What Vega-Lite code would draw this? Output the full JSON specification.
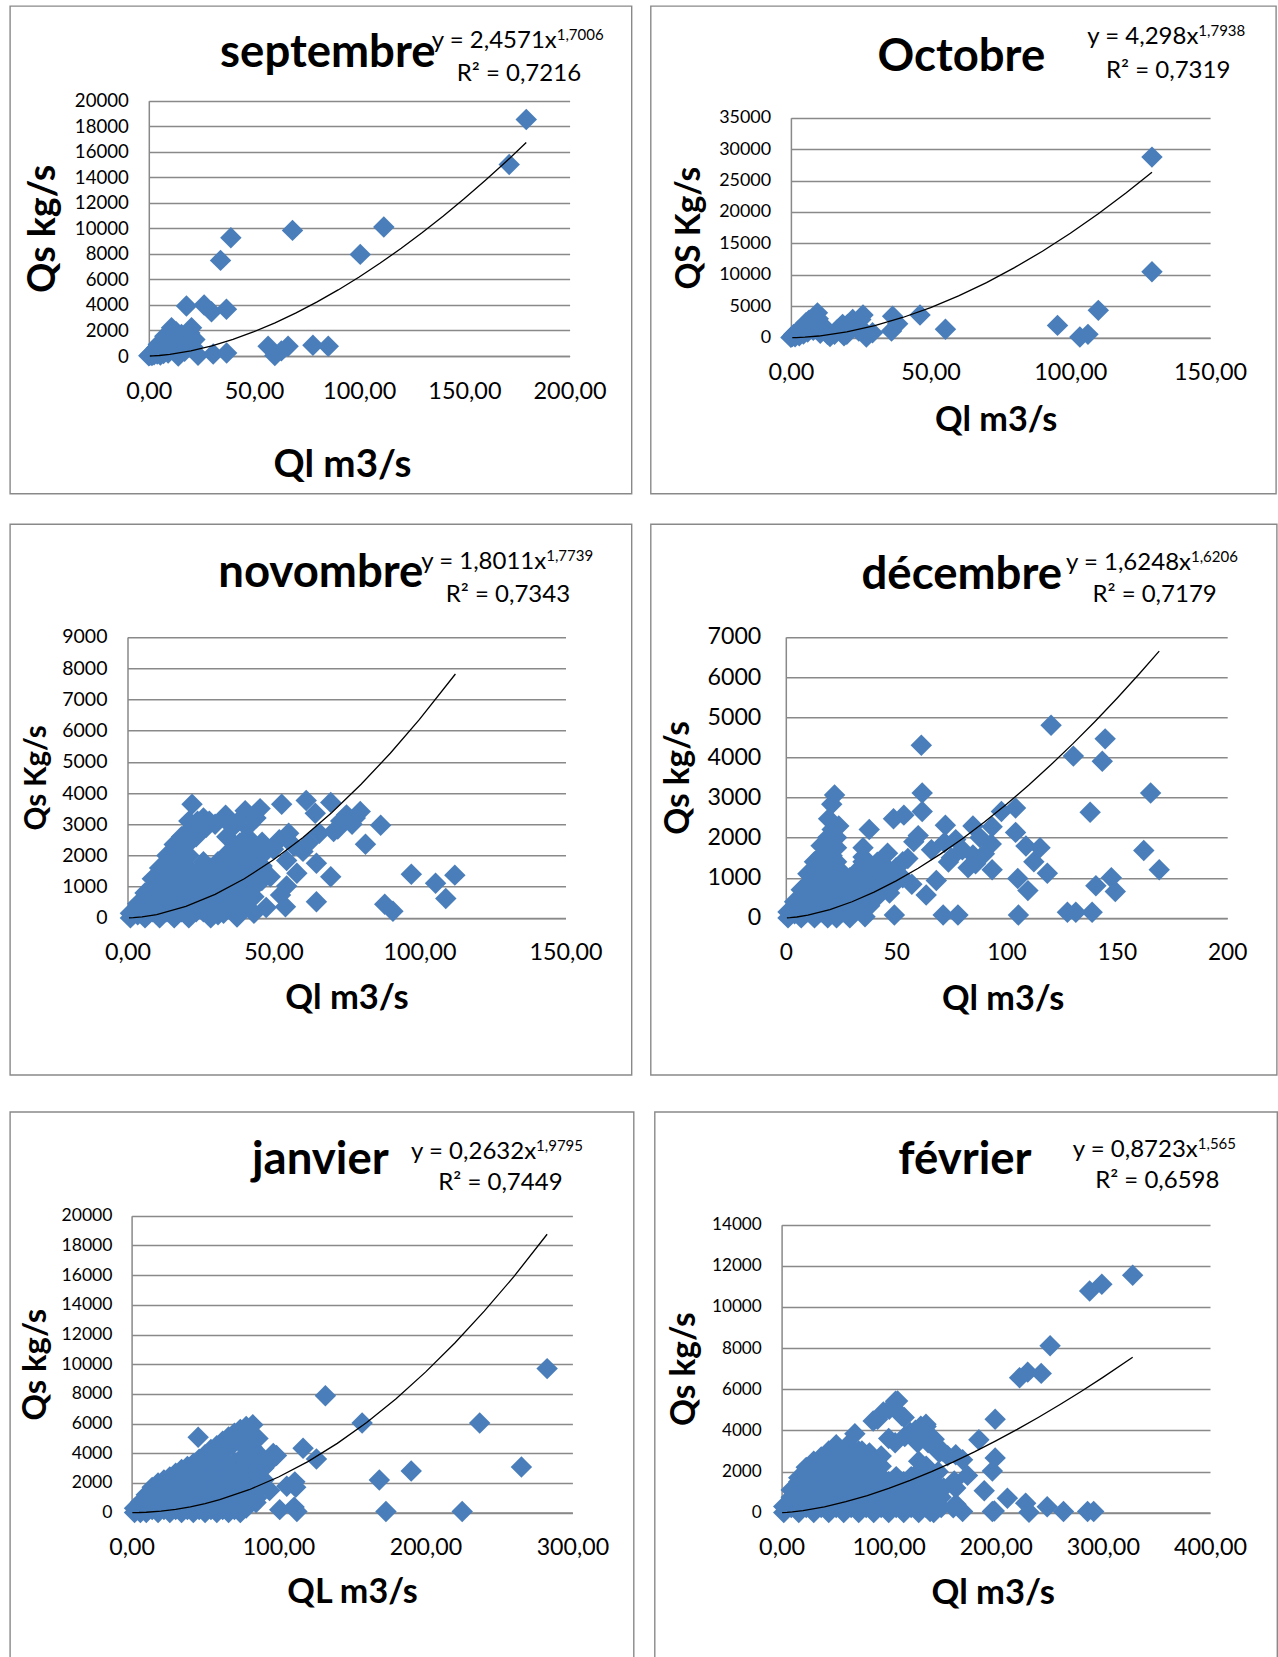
{
"$schema": "https://vega.github.io/schema/vega-lite/v6.json",
"padding": {"left": 9, "top": 5, "right": 0, "bottom": 0},
"background": "white",
"config": {
  "view": {"stroke": "#898989", "strokeWidth": 1.4},
  "font": "Lato",
  "axis": {"domainColor": "#898989", "domainWidth": 1.5, "gridColor": "#898989", "gridWidth": 1.5, "ticks": false, "labelColor": "#000", "labelFont": "Lato", "titleFont": "Lato", "titleColor": "#000", "titleFontWeight": "bold", "labelFlush": false, "labelOverlap": false},
  "axisX": {"grid": false, "labelPadding": 24},
  "axisY": {"grid": true, "labelPadding": 20},
  "title": {"font": "Lato", "fontWeight": "bold", "fontSize": 45.5, "color": "#000", "anchor": "middle", "frame": "group", "baseline": "alphabetic"},
  "text": {"font": "Lato", "color": "#000", "baseline": "alphabetic"},
  "line": {"color": "#000", "strokeWidth": 1.3},
  "point": {"shape": "diamond", "filled": true, "size": 460, "color": "#4A7EBB", "opacity": 1}
},
"datasets": {
 "sep": [{"x":0,"y":20},{"x":0.5,"y":60},{"x":1,"y":150},{"x":1.5,"y":40},{"x":2,"y":300},{"x":2.5,"y":100},{"x":3,"y":450},{"x":3.6,"y":630},{"x":4,"y":150},{"x":4.5,"y":900},{"x":5,"y":350},{"x":5.5,"y":80},{"x":6,"y":1030},{"x":6.5,"y":550},{"x":7,"y":200},{"x":7.6,"y":1550},{"x":8,"y":750},{"x":8.5,"y":1250},{"x":9.2,"y":240},{"x":10,"y":1000},{"x":10.8,"y":2210},{"x":11.5,"y":1500},{"x":12.4,"y":760},{"x":13,"y":1900},{"x":14,"y":0},{"x":14.5,"y":1100},{"x":15.5,"y":1680},{"x":16,"y":600},{"x":17,"y":370},{"x":17.9,"y":3920},{"x":18.5,"y":1000},{"x":19.5,"y":1800},{"x":20.3,"y":2210},{"x":21,"y":700},{"x":21.9,"y":1290},{"x":23.4,"y":50},{"x":26.3,"y":4000},{"x":29.8,"y":3470},{"x":30.6,"y":160},{"x":34.1,"y":7490},{"x":36.9,"y":3660},{"x":37,"y":240},{"x":39,"y":9270},{"x":56.7,"y":760},{"x":59.9,"y":30},{"x":63,"y":400},{"x":66.2,"y":760},{"x":68.3,"y":9840},{"x":78,"y":840},{"x":85.3,"y":760},{"x":100.5,"y":7960},{"x":111.7,"y":10100},{"x":171.3,"y":15000},{"x":179.4,"y":18530}],
 "sepT": [{"x":0.5,"y":0.76},{"x":2,"y":8},{"x":5,"y":37.9},{"x":10,"y":123.3},{"x":20,"y":400.8},{"x":30,"y":798.6},{"x":40,"y":1302.8},{"x":50,"y":1903.8},{"x":60,"y":2596.1},{"x":70,"y":3374.8},{"x":80,"y":4235.8},{"x":90,"y":5175.6},{"x":100,"y":6191.2},{"x":110,"y":7279.2},{"x":120,"y":8439.2},{"x":130,"y":9669.3},{"x":140,"y":10967.9},{"x":150,"y":12332.5},{"x":160,"y":13764.4},{"x":170,"y":15259.2},{"x":179.4,"y":16721.8}],
 "oct": [{"x":0,"y":50},{"x":0.5,"y":200},{"x":1,"y":500},{"x":1.5,"y":150},{"x":2,"y":800},{"x":2.5,"y":1060},{"x":3,"y":300},{"x":3.6,"y":1050},{"x":4,"y":1500},{"x":4.5,"y":600},{"x":5,"y":2000},{"x":5.4,"y":2390},{"x":6,"y":900},{"x":6.5,"y":2800},{"x":7.2,"y":2100},{"x":8,"y":1200},{"x":8.4,"y":3180},{"x":9.5,"y":3950},{"x":9.8,"y":3000},{"x":10.5,"y":700},{"x":11,"y":1800},{"x":12.7,"y":1330},{"x":13.1,"y":530},{"x":14,"y":200},{"x":15.6,"y":530},{"x":16.7,"y":1320},{"x":18.5,"y":2120},{"x":19,"y":300},{"x":20,"y":530},{"x":20.3,"y":2100},{"x":22.1,"y":2900},{"x":24.3,"y":1060},{"x":25,"y":2900},{"x":25.8,"y":3600},{"x":26.2,"y":1050},{"x":27,"y":100},{"x":29.2,"y":790},{"x":36,"y":1060},{"x":36.4,"y":3420},{"x":38.2,"y":2230},{"x":46.2,"y":3600},{"x":55.3,"y":1330},{"x":95.4,"y":1960},{"x":103.4,"y":100},{"x":106.3,"y":530},{"x":110,"y":4350},{"x":129.2,"y":10490},{"x":129.2,"y":28730}],
 "octT": [{"x":0.5,"y":1.24},{"x":2,"y":14.9},{"x":5,"y":77.1},{"x":10,"y":267.3},{"x":20,"y":927.1},{"x":30,"y":1918.2},{"x":40,"y":3214.1},{"x":50,"y":4794.9},{"x":60,"y":6651.2},{"x":70,"y":8769.2},{"x":80,"y":11138.7},{"x":90,"y":13755.3},{"x":100,"y":16620},{"x":110,"y":19719},{"x":120,"y":23053},{"x":129.2,"y":26323}],
 "nov": [{"x":22.1,"y":3640},{"x":33.6,"y":3290},{"x":40.3,"y":3430},{"x":45.4,"y":3500},{"x":52.8,"y":3640},{"x":61.2,"y":3760},{"x":69.6,"y":3700},{"x":64.3,"y":3350},{"x":79.7,"y":3410},{"x":76.9,"y":3000},{"x":86.7,"y":2970},{"x":81.5,"y":2360},{"x":70.6,"y":2770},{"x":65.7,"y":2710},{"x":55.2,"y":2710},{"x":46.1,"y":2420},{"x":37.7,"y":2300},{"x":40.5,"y":2940},{"x":60.1,"y":2130},{"x":54.5,"y":1840},{"x":64.7,"y":1750},{"x":69.6,"y":1320},{"x":58,"y":1430},{"x":48.9,"y":1320},{"x":46.1,"y":1660},{"x":54.5,"y":1020},{"x":52.4,"y":730},{"x":54.1,"y":360},{"x":64.7,"y":520},{"x":97.2,"y":1400},{"x":105.5,"y":1110},{"x":112.1,"y":1370},{"x":109,"y":620},{"x":88.1,"y":440},{"x":90.9,"y":210},{"x":43.3,"y":680},{"x":37,"y":560},{"x":37.5,"y":30},{"x":43.3,"y":150},{"x":47.5,"y":330},{"x":32.9,"y":150},{"x":28,"y":270},{"x":21,"y":0},{"x":73,"y":3100},{"x":75,"y":3300},{"x":78,"y":3200},{"x":72,"y":2850},{"x":50,"y":2200},{"x":52,"y":2500},{"x":57,"y":2300},{"x":62,"y":2400},
  {"x":1,"y":0},{"x":1,"y":150},{"x":3.5,"y":100},{"x":3.5,"y":450},{"x":6,"y":0},{"x":6,"y":400},{"x":6,"y":800},{"x":8.5,"y":200},{"x":8.5,"y":600},{"x":8.5,"y":1000},{"x":8.5,"y":1250},{"x":11,"y":0},{"x":11,"y":400},{"x":11,"y":800},{"x":11,"y":1200},{"x":11,"y":1600},{"x":13.5,"y":200},{"x":13.5,"y":600},{"x":13.5,"y":1000},{"x":13.5,"y":1400},{"x":13.5,"y":1800},{"x":13.5,"y":2000},{"x":16,"y":0},{"x":16,"y":400},{"x":16,"y":800},{"x":16,"y":1200},{"x":16,"y":1600},{"x":16,"y":2000},{"x":16,"y":2350},{"x":18.5,"y":200},{"x":18.5,"y":600},{"x":18.5,"y":1000},{"x":18.5,"y":1400},{"x":18.5,"y":1800},{"x":18.5,"y":2200},{"x":18.5,"y":2600},{"x":21,"y":400},{"x":21,"y":800},{"x":21,"y":1200},{"x":21,"y":1600},{"x":21,"y":2000},{"x":21,"y":2400},{"x":21,"y":2800},{"x":21,"y":3100},{"x":23.5,"y":200},{"x":23.5,"y":600},{"x":23.5,"y":1000},{"x":23.5,"y":1400},{"x":23.5,"y":2600},{"x":23.5,"y":3000},{"x":24,"y":3100},{"x":26,"y":3200},{"x":28,"y":3100},{"x":30,"y":3000},{"x":27,"y":2900},
  {"x":26,"y":200},{"x":26,"y":600},{"x":26,"y":1000},{"x":26,"y":1400},{"x":26,"y":1800},{"x":28.5,"y":0},{"x":28.5,"y":400},{"x":28.5,"y":800},{"x":28.5,"y":1200},{"x":28.5,"y":1600},{"x":31,"y":200},{"x":31,"y":600},{"x":31,"y":1000},{"x":31,"y":1400},{"x":31,"y":1800},{"x":33.5,"y":400},{"x":33.5,"y":800},{"x":33.5,"y":1200},{"x":33.5,"y":1600},{"x":33.5,"y":2000},{"x":36,"y":600},{"x":36,"y":1000},{"x":36,"y":1400},{"x":36,"y":1800},{"x":36,"y":2200},{"x":38.5,"y":800},{"x":38.5,"y":1200},{"x":38.5,"y":1600},{"x":38.5,"y":2000},{"x":38.5,"y":2400},{"x":41,"y":1000},{"x":41,"y":1400},{"x":41,"y":1800},{"x":41,"y":2200},{"x":41,"y":2600},{"x":43.5,"y":1000},{"x":43.5,"y":1400},{"x":43.5,"y":1800},{"x":43.5,"y":2200},{"x":46,"y":1200},{"x":46,"y":1600},{"x":46,"y":2000},{"x":34,"y":2600},{"x":36,"y":2900},{"x":38,"y":3100},{"x":42,"y":3000},{"x":44,"y":3200},{"x":31,"y":100},{"x":34,"y":300},{"x":40,"y":450}],
 "novT": [{"x":0.5,"y":0.53},{"x":2,"y":6.2},{"x":5,"y":31.3},{"x":10,"y":107},{"x":20,"y":366},{"x":30,"y":751.3},{"x":40,"y":1252.1},{"x":50,"y":1859.5},{"x":60,"y":2569.4},{"x":70,"y":3377.1},{"x":80,"y":4278.7},{"x":90,"y":5272.4},{"x":100,"y":6356.4},{"x":112.3,"y":7811.2}],
 "dec": [{"x":120.2,"y":4800},{"x":61.4,"y":4300},{"x":130.3,"y":4030},{"x":144.7,"y":4460},{"x":143.4,"y":3900},{"x":165.3,"y":3110},{"x":137.9,"y":2630},{"x":61.8,"y":3110},{"x":61.8,"y":2650},{"x":22.1,"y":3060},{"x":20.8,"y":2830},{"x":19.4,"y":2470},{"x":24,"y":2290},{"x":37.8,"y":2200},{"x":48.8,"y":2470},{"x":53.5,"y":2560},{"x":72.3,"y":2310},{"x":84.8,"y":2290},{"x":97.7,"y":2650},{"x":93.5,"y":2270},{"x":104.1,"y":2740},{"x":104.1,"y":2130},{"x":108.8,"y":1790},{"x":115.2,"y":1750},{"x":112.4,"y":1400},{"x":118.5,"y":1110},{"x":162.2,"y":1680},{"x":169.2,"y":1200},{"x":147.5,"y":1000},{"x":149.3,"y":660},{"x":140.5,"y":800},{"x":105.1,"y":980},{"x":109.7,"y":680},{"x":93.5,"y":1200},{"x":93.1,"y":1840},{"x":84.8,"y":1570},{"x":82.6,"y":1250},{"x":73.7,"y":1390},{"x":71.9,"y":1880},{"x":68.2,"y":930},{"x":63.6,"y":570},{"x":57.1,"y":840},{"x":47,"y":620},{"x":55.3,"y":1480},{"x":46.1,"y":1610},{"x":41.5,"y":1390},{"x":35,"y":1750},{"x":35,"y":1520},{"x":37.8,"y":390},{"x":35.9,"y":30},{"x":49.2,"y":70},{"x":71.3,"y":70},{"x":78,"y":70},{"x":105.4,"y":70},{"x":127.6,"y":140},{"x":131.4,"y":140},{"x":138.8,"y":140},{"x":58,"y":1900},{"x":60,"y":2050},{"x":66,"y":1700},{"x":77,"y":1950},{"x":80,"y":1700},{"x":88,"y":2000},{"x":75,"y":1500},{"x":86,"y":1350},{"x":90,"y":1600},
  {"x":1,"y":0},{"x":1,"y":150},{"x":4,"y":100},{"x":4,"y":400},{"x":7,"y":0},{"x":7,"y":350},{"x":7,"y":700},{"x":10,"y":150},{"x":10,"y":500},{"x":10,"y":850},{"x":10,"y":1100},{"x":13,"y":0},{"x":13,"y":350},{"x":13,"y":700},{"x":13,"y":1050},{"x":13,"y":1400},{"x":16,"y":150},{"x":16,"y":500},{"x":16,"y":850},{"x":16,"y":1200},{"x":16,"y":1550},{"x":16,"y":1800},{"x":19,"y":0},{"x":19,"y":350},{"x":19,"y":700},{"x":19,"y":1050},{"x":19,"y":1400},{"x":19,"y":1750},{"x":19,"y":2000},{"x":21,"y":150},{"x":21,"y":500},{"x":21,"y":850},{"x":21,"y":1200},{"x":21,"y":1550},{"x":21,"y":1900},{"x":21,"y":2200},{"x":23,"y":0},{"x":23,"y":350},{"x":23,"y":700},{"x":23,"y":1050},{"x":23,"y":1400},{"x":23,"y":1750},{"x":23,"y":2000},{"x":26,"y":150},{"x":26,"y":500},{"x":26,"y":850},{"x":26,"y":1100},{"x":29,"y":0},{"x":29,"y":350},{"x":29,"y":700},{"x":29,"y":1000},
  {"x":32,"y":200},{"x":32,"y":550},{"x":32,"y":900},{"x":32,"y":1150},{"x":35,"y":400},{"x":35,"y":750},{"x":35,"y":1100},{"x":35,"y":1400},{"x":38,"y":300},{"x":38,"y":650},{"x":38,"y":1000},{"x":38,"y":1300},{"x":41,"y":500},{"x":41,"y":850},{"x":41,"y":1200},{"x":44,"y":700},{"x":44,"y":1050},{"x":44,"y":1350},{"x":47,"y":800},{"x":47,"y":1150},{"x":50,"y":900},{"x":50,"y":1250},{"x":53,"y":1000},{"x":53,"y":1400}],
 "decT": [{"x":0.5,"y":0.53},{"x":2,"y":5},{"x":5,"y":22.05},{"x":10,"y":67.8},{"x":20,"y":208.6},{"x":30,"y":402.4},{"x":40,"y":641.6},{"x":50,"y":920.9},{"x":60,"y":1237.3},{"x":70,"y":1588.4},{"x":80,"y":1972.3},{"x":90,"y":2387.3},{"x":100,"y":2832.3},{"x":110,"y":3305.7},{"x":120,"y":3806.9},{"x":130,"y":4334.3},{"x":140,"y":4887.6},{"x":150,"y":5465.8},{"x":160,"y":6068.7},{"x":169.2,"y":6645}],
 "jan": [{"x":282.8,"y":9700},{"x":131.9,"y":7870},{"x":156.9,"y":6040},{"x":236.9,"y":6040},{"x":265.3,"y":3070},{"x":190.3,"y":2800},{"x":168.6,"y":2190},{"x":173.1,"y":70},{"x":225,"y":70},{"x":116.7,"y":4340},{"x":125.8,"y":3610},{"x":111.1,"y":2070},{"x":111.7,"y":1710},{"x":105.6,"y":1780},{"x":110.6,"y":370},{"x":100.8,"y":200},{"x":112.5,"y":70},{"x":93.9,"y":1490},{"x":94.4,"y":3480},{"x":98.6,"y":3850},{"x":88.9,"y":3240},{"x":84.7,"y":680},{"x":45.3,"y":5070},{"x":82.5,"y":5920},{"x":77.8,"y":5430},{"x":85,"y":960},{"x":96.4,"y":3980},
  {"x":2,"y":0},{"x":2,"y":300},{"x":6,"y":0},{"x":6,"y":400},{"x":6,"y":700},{"x":10,"y":0},{"x":10,"y":400},{"x":10,"y":800},{"x":10,"y":1200},{"x":14,"y":200},{"x":14,"y":600},{"x":14,"y":1000},{"x":14,"y":1400},{"x":14,"y":1700},{"x":18,"y":0},{"x":18,"y":400},{"x":18,"y":800},{"x":18,"y":1200},{"x":18,"y":1600},{"x":18,"y":2000},{"x":22,"y":200},{"x":22,"y":600},{"x":22,"y":1000},{"x":22,"y":1400},{"x":22,"y":1800},{"x":22,"y":2200},{"x":26,"y":0},{"x":26,"y":400},{"x":26,"y":800},{"x":26,"y":1200},{"x":26,"y":1600},{"x":26,"y":2000},{"x":26,"y":2400},{"x":30,"y":200},{"x":30,"y":600},{"x":30,"y":1000},{"x":30,"y":1400},{"x":30,"y":1800},{"x":30,"y":2200},{"x":30,"y":2650},{"x":34,"y":0},{"x":34,"y":400},{"x":34,"y":800},{"x":34,"y":1200},{"x":34,"y":1600},{"x":34,"y":2000},{"x":34,"y":2400},{"x":34,"y":2900},{"x":38,"y":200},{"x":38,"y":600},{"x":38,"y":1000},{"x":38,"y":1400},{"x":38,"y":1800},{"x":38,"y":2200},{"x":38,"y":2600},{"x":38,"y":3100},{"x":42,"y":0},{"x":42,"y":400},{"x":42,"y":800},{"x":42,"y":1200},{"x":42,"y":1600},{"x":42,"y":2000},{"x":42,"y":2400},{"x":42,"y":2800},{"x":42,"y":3300},{"x":46,"y":200},{"x":46,"y":600},{"x":46,"y":1000},{"x":46,"y":1400},{"x":46,"y":1800},{"x":46,"y":2200},{"x":46,"y":2600},{"x":46,"y":3000},{"x":46,"y":3600},{"x":50,"y":0},{"x":50,"y":400},{"x":50,"y":800},{"x":50,"y":1200},{"x":50,"y":1600},{"x":50,"y":2000},{"x":50,"y":2400},{"x":50,"y":3400},{"x":50,"y":3900},{"x":54,"y":200},{"x":54,"y":600},{"x":54,"y":1000},{"x":54,"y":1400},{"x":54,"y":1800},{"x":54,"y":2200},{"x":54,"y":2600},{"x":54,"y":3600},{"x":54,"y":4000},{"x":54,"y":4250},{"x":58,"y":0},{"x":58,"y":400},{"x":58,"y":800},{"x":58,"y":1200},{"x":58,"y":1600},{"x":58,"y":2000},{"x":58,"y":2400},{"x":58,"y":2800},{"x":58,"y":3800},{"x":58,"y":4200},{"x":58,"y":4500},{"x":62,"y":200},{"x":62,"y":600},{"x":62,"y":1000},{"x":62,"y":1400},{"x":62,"y":1800},{"x":62,"y":2200},{"x":62,"y":2600},{"x":62,"y":3000},{"x":62,"y":4100},{"x":62,"y":4500},{"x":62,"y":4800},{"x":66,"y":0},{"x":66,"y":400},{"x":66,"y":800},{"x":66,"y":1200},{"x":66,"y":1600},{"x":66,"y":2000},{"x":66,"y":2400},{"x":66,"y":2800},{"x":66,"y":3200},{"x":66,"y":4400},{"x":66,"y":4800},{"x":66,"y":5100},{"x":70,"y":200},{"x":70,"y":600},{"x":70,"y":1000},{"x":70,"y":1400},{"x":70,"y":1800},{"x":70,"y":2200},{"x":70,"y":2600},{"x":70,"y":3000},{"x":70,"y":3400},{"x":70,"y":4700},{"x":70,"y":5100},{"x":70,"y":5350},{"x":74,"y":0},{"x":74,"y":400},{"x":74,"y":800},{"x":74,"y":1200},{"x":74,"y":1600},{"x":74,"y":2000},{"x":74,"y":2400},{"x":74,"y":2800},{"x":74,"y":3200},{"x":74,"y":3600},{"x":74,"y":4900},{"x":74,"y":5300},{"x":74,"y":5600},{"x":78,"y":300},{"x":78,"y":700},{"x":78,"y":1100},{"x":78,"y":1500},{"x":78,"y":1900},{"x":78,"y":2300},{"x":78,"y":2700},{"x":78,"y":3100},{"x":78,"y":3500},{"x":78,"y":3900},{"x":78,"y":4300},{"x":78,"y":5100},{"x":78,"y":5500},{"x":78,"y":5800},{"x":82,"y":800},{"x":82,"y":1200},{"x":82,"y":1600},{"x":82,"y":2000},{"x":82,"y":2400},{"x":82,"y":2800},{"x":82,"y":3200},{"x":82,"y":3600},{"x":82,"y":4000},{"x":82,"y":4400},{"x":82,"y":4800},{"x":82,"y":5200},{"x":86,"y":1500},{"x":86,"y":2000},{"x":86,"y":2500},{"x":86,"y":3000},{"x":86,"y":3500},{"x":86,"y":4000},{"x":86,"y":5000},{"x":90,"y":2200},{"x":90,"y":3000},{"x":90,"y":3500}],
 "janT": [{"x":0.5,"y":0.07},{"x":5,"y":6.4},{"x":10,"y":25.1},{"x":20,"y":99},{"x":30,"y":220.9},{"x":40,"y":390.5},{"x":50,"y":607.3},{"x":60,"y":871.4},{"x":80,"y":1540.2},{"x":100,"y":2395.9},{"x":120,"y":3437.1},{"x":140,"y":4664.5},{"x":160,"y":6072},{"x":180,"y":7666},{"x":200,"y":9463},{"x":220,"y":11428},{"x":240,"y":13574},{"x":260,"y":15877},{"x":282.8,"y":18750}],
 "fev": [{"x":327.8,"y":11540},{"x":299,"y":11100},{"x":287.6,"y":10780},{"x":250.7,"y":8110},{"x":222.2,"y":6560},{"x":229.8,"y":6830},{"x":242.4,"y":6770},{"x":199.4,"y":4540},{"x":199.4,"y":2660},{"x":196.8,"y":2020},{"x":184.2,"y":3540},{"x":173.6,"y":1810},{"x":162.6,"y":2810},{"x":169,"y":2570},{"x":162.6,"y":1200},{"x":151.2,"y":1200},{"x":189.2,"y":1060},{"x":210.8,"y":700},{"x":227.9,"y":460},{"x":248,"y":280},{"x":263.2,"y":50},{"x":231,"y":20},{"x":196.8,"y":50},{"x":160.3,"y":230},{"x":169,"y":50},{"x":285.7,"y":50},{"x":291.4,"y":50},{"x":134.9,"y":4190},{"x":106.4,"y":5420},{"x":112.1,"y":4710},{"x":85.5,"y":4450},{"x":95,"y":4890},{"x":68.4,"y":3830},{"x":136.8,"y":3400},{"x":146.2,"y":1990},{"x":129.2,"y":1280},{"x":138.7,"y":50},{"x":121.6,"y":400},{"x":108.3,"y":5430},{"x":100.5,"y":5030},{"x":89.6,"y":4540},{"x":114.5,"y":4620},{"x":134.8,"y":4300},{"x":142.5,"y":3570},{"x":127,"y":3400},{"x":147.2,"y":2920},{"x":155,"y":2760},{"x":161.2,"y":1540},{"x":162.8,"y":405},{"x":198.6,"y":80},
  {"x":55,"y":3000},{"x":62,"y":3300},{"x":75,"y":3000},{"x":82,"y":2900},{"x":100,"y":3600},{"x":106,"y":3400},{"x":115,"y":3700},{"x":120,"y":3900},{"x":125,"y":4000},{"x":130,"y":4200},{"x":135,"y":3800},{"x":140,"y":3600},{"x":145,"y":3200},{"x":150,"y":3000},
  {"x":2,"y":0},{"x":2,"y":300},{"x":9,"y":250},{"x":9,"y":750},{"x":9,"y":1100},{"x":16,"y":0},{"x":16,"y":500},{"x":16,"y":1000},{"x":16,"y":1500},{"x":16,"y":1700},{"x":23,"y":250},{"x":23,"y":750},{"x":23,"y":1250},{"x":23,"y":1750},{"x":23,"y":2200},{"x":30,"y":0},{"x":30,"y":500},{"x":30,"y":1000},{"x":30,"y":1500},{"x":30,"y":2000},{"x":30,"y":2500},{"x":37,"y":250},{"x":37,"y":750},{"x":37,"y":1250},{"x":37,"y":1750},{"x":37,"y":2250},{"x":37,"y":2700},{"x":44,"y":0},{"x":44,"y":500},{"x":44,"y":1000},{"x":44,"y":1500},{"x":44,"y":2000},{"x":44,"y":2500},{"x":44,"y":3000},{"x":51,"y":250},{"x":51,"y":750},{"x":51,"y":1250},{"x":51,"y":1750},{"x":51,"y":2250},{"x":51,"y":2750},{"x":51,"y":3300},{"x":58,"y":0},{"x":58,"y":500},{"x":58,"y":1000},{"x":58,"y":1500},{"x":58,"y":2000},{"x":58,"y":2500},{"x":58,"y":3000},{"x":65,"y":250},{"x":65,"y":750},{"x":65,"y":1250},{"x":65,"y":1750},{"x":65,"y":2250},{"x":65,"y":2750},{"x":72,"y":0},{"x":72,"y":500},{"x":72,"y":1000},{"x":72,"y":1500},{"x":72,"y":2000},{"x":72,"y":2500},{"x":72,"y":3000},{"x":79,"y":250},{"x":79,"y":750},{"x":79,"y":1250},{"x":79,"y":1750},{"x":79,"y":2250},{"x":79,"y":2750},{"x":86,"y":0},{"x":86,"y":500},{"x":86,"y":1000},{"x":86,"y":1500},{"x":86,"y":2000},{"x":86,"y":2500},{"x":93,"y":250},{"x":93,"y":750},{"x":93,"y":1250},{"x":93,"y":1750},{"x":93,"y":2250},{"x":93,"y":2750},{"x":100,"y":0},{"x":100,"y":500},{"x":100,"y":1000},{"x":100,"y":1500},{"x":107,"y":250},{"x":107,"y":750},{"x":107,"y":1250},{"x":107,"y":1750},{"x":114,"y":0},{"x":114,"y":500},{"x":114,"y":1000},{"x":114,"y":1500},{"x":121,"y":250},{"x":121,"y":750},{"x":121,"y":1250},{"x":121,"y":1750},{"x":128,"y":0},{"x":128,"y":500},{"x":128,"y":1000},{"x":128,"y":1500},{"x":128,"y":2000},{"x":128,"y":2500},{"x":135,"y":250},{"x":135,"y":750},{"x":135,"y":1250},{"x":135,"y":1750},{"x":135,"y":2250},{"x":142,"y":0},{"x":142,"y":500},{"x":142,"y":1000},{"x":142,"y":1500},{"x":149,"y":250},{"x":149,"y":750}],
 "fevT": [{"x":0.5,"y":0.3},{"x":5,"y":10.8},{"x":10,"y":32},{"x":20,"y":94.8},{"x":40,"y":280.5},{"x":60,"y":529.2},{"x":80,"y":830.1},{"x":100,"y":1177.3},{"x":120,"y":1566.2},{"x":140,"y":1993.7},{"x":160,"y":2457.4},{"x":180,"y":2954.8},{"x":200,"y":3485.4},{"x":220,"y":4045},{"x":240,"y":4635},{"x":260,"y":5255},{"x":280,"y":5901},{"x":300,"y":6575},{"x":327.8,"y":7551}]
},
"spacing": 28.2,
"vconcat": [
 {"hconcat": [
  {"width": 621.6, "height": 487.7,
   "title": {"text": "septembre", "offset": -70.5, "dx": 7},
   "layer": [
    {"data": {"name": "sep"}, "mark": {"type": "point"},
     "encoding": {
      "x": {"field": "x", "type": "quantitative", "scale": {"domain": [0, 200], "range": [138.8, 559.6], "nice": false, "zero": false},
            "axis": {"title": "Ql m3/s", "values": [0, 50, 100, 150, 200], "labelExpr": "replace(format(datum.value, '.2f'), '.', ',')", "offset": -137.7, "labelFontSize": 23.4, "titleFontSize": 38.6, "titlePadding": 44, "titleX": 332}},
      "y": {"field": "y", "type": "quantitative", "scale": {"domain": [0, 20000], "range": [350, 94.7], "nice": false, "zero": false},
            "axis": {"title": "Qs kg/s", "values": [0, 2000, 4000, 6000, 8000, 10000, 12000, 14000, 16000, 18000, 20000], "format": "d", "offset": -138.8, "labelFontSize": 18.6, "labelPadding": 20.5, "titleFontSize": 37.6, "titlePadding": 12}}
     }},
    {"data": {"name": "sepT"}, "mark": {"type": "line"},
     "encoding": {
      "x": {"field": "x", "type": "quantitative", "scale": {"domain": [0, 200], "range": [138.8, 559.6], "nice": false, "zero": false}},
      "y": {"field": "y", "type": "quantitative", "scale": {"domain": [0, 20000], "range": [350, 94.7], "nice": false, "zero": false}}
     }},
    {"data": {"values": [{}]}, "mark": {"type": "text", "text": "y = 2,4571x", "align": "right", "fontSize": 24},
     "encoding": {
      "x": {"datum": 193.9, "type": "quantitative", "scale": {"domain": [0, 200], "range": [138.8, 559.6], "nice": false, "zero": false}},
      "y": {"datum": 24152, "type": "quantitative", "scale": {"domain": [0, 20000], "range": [350, 94.7], "nice": false, "zero": false}}
     }},
    {"data": {"values": [{}]}, "mark": {"type": "text", "text": "1,7006", "align": "left", "fontSize": 15, "dy": -8},
     "encoding": {
      "x": {"datum": 193.9, "type": "quantitative", "scale": {"domain": [0, 200], "range": [138.8, 559.6], "nice": false, "zero": false}},
      "y": {"datum": 24152, "type": "quantitative", "scale": {"domain": [0, 20000], "range": [350, 94.7], "nice": false, "zero": false}}
     }},
    {"data": {"values": [{}]}, "mark": {"type": "text", "text": "R² = 0,7216", "align": "center", "fontSize": 24},
     "encoding": {
      "x": {"datum": 175.9, "type": "quantitative", "scale": {"domain": [0, 200], "range": [138.8, 559.6], "nice": false, "zero": false}},
      "y": {"datum": 21544, "type": "quantitative", "scale": {"domain": [0, 20000], "range": [350, 94.7], "nice": false, "zero": false}}
     }}
   ]},
  {"width": 625.3, "height": 487.7,
   "title": {"text": "Octobre", "offset": -74.5, "dx": -2},
   "layer": [
    {"data": {"name": "oct"}, "mark": {"type": "point"},
     "encoding": {
      "x": {"field": "x", "type": "quantitative", "scale": {"domain": [0, 150], "range": [140.2, 559.4], "nice": false, "zero": false},
            "axis": {"title": "Ql m3/s", "values": [0, 50, 100, 150], "labelExpr": "replace(format(datum.value, '.2f'), '.', ',')", "offset": -156, "labelFontSize": 23.4, "titleFontSize": 34.2, "titlePadding": 19.5, "titleX": 345}},
      "y": {"field": "y", "type": "quantitative", "scale": {"domain": [0, 35000], "range": [331.7, 111.7], "nice": false, "zero": false},
            "axis": {"title": "QS Kg/s", "values": [0, 5000, 10000, 15000, 20000, 25000, 30000, 35000], "format": "d", "offset": -140.2, "labelFontSize": 17.9, "labelPadding": 20.3, "titleFontSize": 33.4, "titlePadding": 12}}
     }},
    {"data": {"name": "octT"}, "mark": {"type": "line"},
     "encoding": {
      "x": {"field": "x", "type": "quantitative", "scale": {"domain": [0, 150], "range": [140.2, 559.4], "nice": false, "zero": false}},
      "y": {"field": "y", "type": "quantitative", "scale": {"domain": [0, 35000], "range": [331.7, 111.7], "nice": false, "zero": false}}
     }},
    {"data": {"values": [{}]}, "mark": {"type": "text", "text": "y = 4,298x", "align": "right", "fontSize": 24},
     "encoding": {
      "x": {"datum": 145.8, "type": "quantitative", "scale": {"domain": [0, 150], "range": [140.2, 559.4], "nice": false, "zero": false}},
      "y": {"datum": 46680, "type": "quantitative", "scale": {"domain": [0, 35000], "range": [331.7, 111.7], "nice": false, "zero": false}}
     }},
    {"data": {"values": [{}]}, "mark": {"type": "text", "text": "1,7938", "align": "left", "fontSize": 15, "dy": -8},
     "encoding": {
      "x": {"datum": 145.8, "type": "quantitative", "scale": {"domain": [0, 150], "range": [140.2, 559.4], "nice": false, "zero": false}},
      "y": {"datum": 46680, "type": "quantitative", "scale": {"domain": [0, 35000], "range": [331.7, 111.7], "nice": false, "zero": false}}
     }},
    {"data": {"values": [{}]}, "mark": {"type": "text", "text": "R² = 0,7319", "align": "center", "fontSize": 24},
     "encoding": {
      "x": {"datum": 135, "type": "quantitative", "scale": {"domain": [0, 150], "range": [140.2, 559.4], "nice": false, "zero": false}},
      "y": {"datum": 41270, "type": "quantitative", "scale": {"domain": [0, 35000], "range": [331.7, 111.7], "nice": false, "zero": false}}
     }}
   ]}
 ], "spacing": 16.7},
 {"spacing": 34.7, "vconcat": [
  {"hconcat": [
   {"width": 621.6, "height": 550.7,
    "title": {"text": "novombre", "offset": -72.5, "dx": 0},
    "layer": [
     {"data": {"name": "nov"}, "mark": {"type": "point"},
      "encoding": {
       "x": {"field": "x", "type": "quantitative", "scale": {"domain": [0, 150], "range": [117.5, 555.5], "nice": false, "zero": false},
             "axis": {"title": "Ql m3/s", "values": [0, 50, 100, 150], "labelExpr": "replace(format(datum.value, '.2f'), '.', ',')", "offset": -157, "labelFontSize": 23.3, "titleFontSize": 34.5, "titlePadding": 17.3}},
       "y": {"field": "y", "type": "quantitative", "scale": {"domain": [0, 9000], "range": [393.7, 112.7], "nice": false, "zero": false},
             "axis": {"title": "Qs Kg/s", "values": [0, 1000, 2000, 3000, 4000, 5000, 6000, 7000, 8000, 9000], "format": "d", "offset": -117.5, "labelFontSize": 19.5, "labelPadding": 20.5, "titleFontSize": 29.5, "titlePadding": 10.5}}
      }},
     {"data": {"name": "novT"}, "mark": {"type": "line"},
      "encoding": {
       "x": {"field": "x", "type": "quantitative", "scale": {"domain": [0, 150], "range": [117.5, 555.5], "nice": false, "zero": false}},
       "y": {"field": "y", "type": "quantitative", "scale": {"domain": [0, 9000], "range": [393.7, 112.7], "nice": false, "zero": false}}
      }},
     {"data": {"values": [{}]}, "mark": {"type": "text", "text": "y = 1,8011x", "align": "right", "fontSize": 24},
      "encoding": {
       "x": {"datum": 143.4, "type": "quantitative", "scale": {"domain": [0, 150], "range": [117.5, 555.5], "nice": false, "zero": false}},
       "y": {"datum": 11188, "type": "quantitative", "scale": {"domain": [0, 9000], "range": [393.7, 112.7], "nice": false, "zero": false}}
      }},
     {"data": {"values": [{}]}, "mark": {"type": "text", "text": "1,7739", "align": "left", "fontSize": 15, "dy": -8},
      "encoding": {
       "x": {"datum": 143.4, "type": "quantitative", "scale": {"domain": [0, 150], "range": [117.5, 555.5], "nice": false, "zero": false}},
       "y": {"datum": 11188, "type": "quantitative", "scale": {"domain": [0, 9000], "range": [393.7, 112.7], "nice": false, "zero": false}}
      }},
     {"data": {"values": [{}]}, "mark": {"type": "text", "text": "R² = 0,7343", "align": "center", "fontSize": 24},
      "encoding": {
       "x": {"datum": 130.3, "type": "quantitative", "scale": {"domain": [0, 150], "range": [117.5, 555.5], "nice": false, "zero": false}},
       "y": {"datum": 10109, "type": "quantitative", "scale": {"domain": [0, 9000], "range": [393.7, 112.7], "nice": false, "zero": false}}
      }}
    ]},
   {"width": 626.1, "height": 550.7,
    "title": {"text": "décembre", "offset": -73.9, "dx": -2},
    "layer": [
     {"data": {"name": "dec"}, "mark": {"type": "point"},
      "encoding": {
       "x": {"field": "x", "type": "quantitative", "scale": {"domain": [0, 200], "range": [135.1, 576.5], "nice": false, "zero": false},
             "axis": {"title": "Ql m3/s", "values": [0, 50, 100, 150, 200], "format": "d", "offset": -157, "labelFontSize": 22.7, "titleFontSize": 34.2, "titlePadding": 17.5, "titleX": 352}},
       "y": {"field": "y", "type": "quantitative", "scale": {"domain": [0, 7000], "range": [393.7, 112.7], "nice": false, "zero": false},
             "axis": {"title": "Qs kg/s", "values": [0, 1000, 2000, 3000, 4000, 5000, 6000, 7000], "format": "d", "offset": -135.1, "labelFontSize": 23.2, "labelPadding": 25, "titleFontSize": 33.4, "titlePadding": 12}}
      }},
     {"data": {"name": "decT"}, "mark": {"type": "line"},
      "encoding": {
       "x": {"field": "x", "type": "quantitative", "scale": {"domain": [0, 200], "range": [135.1, 576.5], "nice": false, "zero": false}},
       "y": {"field": "y", "type": "quantitative", "scale": {"domain": [0, 7000], "range": [393.7, 112.7], "nice": false, "zero": false}}
      }},
     {"data": {"values": [{}]}, "mark": {"type": "text", "text": "y = 1,6248x", "align": "right", "fontSize": 24},
      "encoding": {
       "x": {"datum": 183.6, "type": "quantitative", "scale": {"domain": [0, 200], "range": [135.1, 576.5], "nice": false, "zero": false}},
       "y": {"datum": 8676, "type": "quantitative", "scale": {"domain": [0, 7000], "range": [393.7, 112.7], "nice": false, "zero": false}}
      }},
     {"data": {"values": [{}]}, "mark": {"type": "text", "text": "1,6206", "align": "left", "fontSize": 15, "dy": -8},
      "encoding": {
       "x": {"datum": 183.6, "type": "quantitative", "scale": {"domain": [0, 200], "range": [135.1, 576.5], "nice": false, "zero": false}},
       "y": {"datum": 8676, "type": "quantitative", "scale": {"domain": [0, 7000], "range": [393.7, 112.7], "nice": false, "zero": false}}
      }},
     {"data": {"values": [{}]}, "mark": {"type": "text", "text": "R² = 0,7179", "align": "center", "fontSize": 24},
      "encoding": {
       "x": {"datum": 167.1, "type": "quantitative", "scale": {"domain": [0, 200], "range": [135.1, 576.5], "nice": false, "zero": false}},
       "y": {"datum": 7862, "type": "quantitative", "scale": {"domain": [0, 7000], "range": [393.7, 112.7], "nice": false, "zero": false}}
      }}
    ]}
  ], "spacing": 16.7},
  {"hconcat": [
   {"width": 623.7, "height": 553,
    "title": {"text": "janvier", "offset": -72, "dx": -1.5},
    "layer": [
     {"data": {"name": "jan"}, "mark": {"type": "point"},
      "encoding": {
       "x": {"field": "x", "type": "quantitative", "scale": {"domain": [0, 300], "range": [121.6, 562.4], "nice": false, "zero": false},
             "axis": {"title": "QL m3/s", "values": [0, 100, 200, 300], "labelExpr": "replace(format(datum.value, '.2f'), '.', ',')", "offset": -152.3, "labelFontSize": 23.2, "titleFontSize": 34.1, "titlePadding": 17.1}},
       "y": {"field": "y", "type": "quantitative", "scale": {"domain": [0, 20000], "range": [400.7, 103.8], "nice": false, "zero": false},
             "axis": {"title": "Qs kg/s", "values": [0, 2000, 4000, 6000, 8000, 10000, 12000, 14000, 16000, 18000, 20000], "format": "d", "offset": -121.6, "labelFontSize": 17.6, "labelPadding": 19.6, "titleFontSize": 32.8, "titlePadding": 8}}
      }},
     {"data": {"name": "janT"}, "mark": {"type": "line"},
      "encoding": {
       "x": {"field": "x", "type": "quantitative", "scale": {"domain": [0, 300], "range": [121.6, 562.4], "nice": false, "zero": false}},
       "y": {"field": "y", "type": "quantitative", "scale": {"domain": [0, 20000], "range": [400.7, 103.8], "nice": false, "zero": false}}
      }},
     {"data": {"values": [{}]}, "mark": {"type": "text", "text": "y = 0,2632x", "align": "right", "fontSize": 24},
      "encoding": {
       "x": {"datum": 275.3, "type": "quantitative", "scale": {"domain": [0, 300], "range": [121.6, 562.4], "nice": false, "zero": false}},
       "y": {"datum": 23825, "type": "quantitative", "scale": {"domain": [0, 20000], "range": [400.7, 103.8], "nice": false, "zero": false}}
      }},
     {"data": {"values": [{}]}, "mark": {"type": "text", "text": "1,9795", "align": "left", "fontSize": 15, "dy": -8},
      "encoding": {
       "x": {"datum": 275.3, "type": "quantitative", "scale": {"domain": [0, 300], "range": [121.6, 562.4], "nice": false, "zero": false}},
       "y": {"datum": 23825, "type": "quantitative", "scale": {"domain": [0, 20000], "range": [400.7, 103.8], "nice": false, "zero": false}}
      }},
     {"data": {"values": [{}]}, "mark": {"type": "text", "text": "R² = 0,7449", "align": "center", "fontSize": 24},
      "encoding": {
       "x": {"datum": 251, "type": "quantitative", "scale": {"domain": [0, 300], "range": [121.6, 562.4], "nice": false, "zero": false}},
       "y": {"datum": 21704, "type": "quantitative", "scale": {"domain": [0, 20000], "range": [400.7, 103.8], "nice": false, "zero": false}}
      }}
    ]},
   {"width": 622.5, "height": 553,
    "title": {"text": "février", "offset": -72, "dx": -1},
    "layer": [
     {"data": {"name": "fev"}, "mark": {"type": "point"},
      "encoding": {
       "x": {"field": "x", "type": "quantitative", "scale": {"domain": [0, 400], "range": [126.9, 555.3], "nice": false, "zero": false},
             "axis": {"title": "Ql m3/s", "values": [0, 100, 200, 300, 400], "labelExpr": "replace(format(datum.value, '.2f'), '.', ',')", "offset": -152.3, "labelFontSize": 23.4, "titleFontSize": 34.5, "titlePadding": 17, "titleX": 338}},
       "y": {"field": "y", "type": "quantitative", "scale": {"domain": [0, 14000], "range": [400.7, 112.8], "nice": false, "zero": false},
             "axis": {"title": "Qs kg/s", "values": [0, 2000, 4000, 6000, 8000, 10000, 12000, 14000], "format": "d", "offset": -126.9, "labelFontSize": 17.2, "labelPadding": 20.3, "titleFontSize": 33.4, "titlePadding": 10}}
      }},
     {"data": {"name": "fevT"}, "mark": {"type": "line"},
      "encoding": {
       "x": {"field": "x", "type": "quantitative", "scale": {"domain": [0, 400], "range": [126.9, 555.3], "nice": false, "zero": false}},
       "y": {"field": "y", "type": "quantitative", "scale": {"domain": [0, 14000], "range": [400.7, 112.8], "nice": false, "zero": false}}
      }},
     {"data": {"values": [{}]}, "mark": {"type": "text", "text": "y = 0,8723x", "align": "right", "fontSize": 24},
      "encoding": {
       "x": {"datum": 388.6, "type": "quantitative", "scale": {"domain": [0, 400], "range": [126.9, 555.3], "nice": false, "zero": false}},
       "y": {"datum": 17288, "type": "quantitative", "scale": {"domain": [0, 14000], "range": [400.7, 112.8], "nice": false, "zero": false}}
      }},
     {"data": {"values": [{}]}, "mark": {"type": "text", "text": "1,565", "align": "left", "fontSize": 15, "dy": -8},
      "encoding": {
       "x": {"datum": 388.6, "type": "quantitative", "scale": {"domain": [0, 400], "range": [126.9, 555.3], "nice": false, "zero": false}},
       "y": {"datum": 17288, "type": "quantitative", "scale": {"domain": [0, 14000], "range": [400.7, 112.8], "nice": false, "zero": false}}
      }},
     {"data": {"values": [{}]}, "mark": {"type": "text", "text": "R² = 0,6598", "align": "center", "fontSize": 24},
      "encoding": {
       "x": {"datum": 350.8, "type": "quantitative", "scale": {"domain": [0, 400], "range": [126.9, 555.3], "nice": false, "zero": false}},
       "y": {"datum": 15795, "type": "quantitative", "scale": {"domain": [0, 14000], "range": [400.7, 112.8], "nice": false, "zero": false}}
      }}
    ]}
  ], "spacing": 18.7}
 ]}
]
}
